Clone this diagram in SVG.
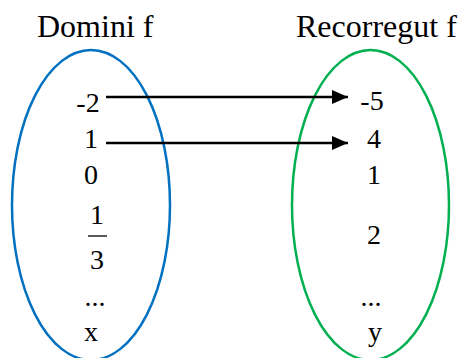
<svg xmlns="http://www.w3.org/2000/svg" width="462" height="358" viewBox="0 0 462 358">
<style>
text{font-family:"Liberation Serif","Times New Roman",serif;fill:#000}
.t{font-size:32px}
.n{font-size:28px;text-anchor:middle}
.c{stroke:#000;stroke-width:2.5;fill:none}
</style>
<defs>
<marker id="ah" markerUnits="userSpaceOnUse" markerWidth="18" markerHeight="14" refX="16" refY="7" orient="auto">
<path d="M0,0 L16,7 L0,14 Z" fill="#000"/>
</marker>
</defs>
<rect width="462" height="358" fill="#fff"/>
<g id="domain">
<ellipse cx="91" cy="205" rx="79" ry="155" fill="none" stroke="#0070C0" stroke-width="2.5"/>
<text class="t" x="37" y="37">Domini f</text>
<text class="n" x="88" y="112">-2</text>
<text class="n" x="91" y="148">1</text>
<text class="n" x="91" y="184">0</text>
<text class="n" x="97" y="224">1</text>
<line x1="88" y1="236" x2="107" y2="236" stroke="#000" stroke-width="1.3"/>
<text class="n" x="97" y="269">3</text>
<text class="n" x="95" y="306">...</text>
<text class="n" x="91" y="341">x</text>
</g>
<g id="range">
<ellipse cx="370.5" cy="205" rx="78.5" ry="155" fill="none" stroke="#00B050" stroke-width="2.5"/>
<text class="t" x="296" y="37">Recorregut f</text>
<text class="n" x="372" y="110">-5</text>
<text class="n" x="374" y="148">4</text>
<text class="n" x="374" y="184">1</text>
<text class="n" x="374" y="244">2</text>
<text class="n" x="371" y="306">...</text>
<text class="n" x="375" y="341">y</text>
</g>
<g id="connectors">
<line class="c" x1="106" y1="97" x2="348" y2="97" marker-end="url(#ah)"/>
<line class="c" x1="106" y1="143" x2="348" y2="143" marker-end="url(#ah)"/>
</g>
</svg>
